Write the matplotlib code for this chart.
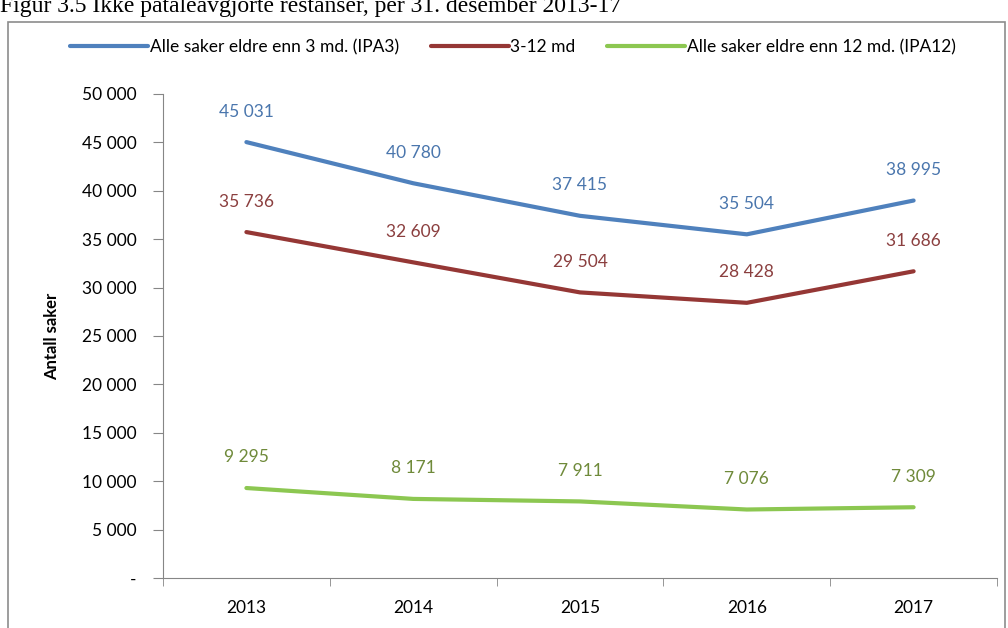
import numpy as np
import matplotlib
matplotlib.use('Agg')
import matplotlib.pyplot as plt
from matplotlib.patches import Rectangle

years = ['2013', '2014', '2015', '2016', '2017']
ipa3 = [45031, 40780, 37415, 35504, 38995]
mid = [35736, 32609, 29504, 28428, 31686]
ipa12 = [9295, 8171, 7911, 7076, 7309]

series_names = ['Alle saker eldre enn 3 md. (IPA3)', '3-12 md',
                'Alle saker eldre enn 12 md. (IPA12)']
line_colors = ['#4f81bd', '#953735', '#8cc751']
label_colors = ['#4a76ad', '#8b3f3f', '#6f8a3a']

yticks = np.arange(0, 50001, 5000)


def fmt(v):
    # norwegian style thousands with space, dash for zero
    if v == 0:
        return '-'
    return '{:,}'.format(int(v)).replace(',', ' ')


plt.rcParams['font.family'] = ['Lato', 'DejaVu Sans']

fig = plt.figure(figsize=(10.08, 6.28), dpi=100, facecolor='w')
W, H = 1008, 628

# caption, cut by the top edge in the reference
fig.text(0, 1 - 6 / H, 'Figur 3.5 Ikke påtaleavgjorte restanser, per 31. desember 2013-17',
         family='Liberation Serif', fontsize=17, va='center', ha='left')

# chart frame
fig.patches.append(Rectangle((8 / W, -0.05), (1005 - 8) / W, 1 - 22 / H + 0.05,
                             transform=fig.transFigure, fill=False,
                             edgecolor='#8c8c8c', lw=1.2))

ax = fig.add_axes([163 / W, 1 - 578 / H, (997 - 163) / W, (578 - 94) / H])
x = np.arange(len(years))
for vals, lc, tc, name in zip([ipa3, mid, ipa12], line_colors, label_colors, series_names):
    ax.plot(x, vals, color=lc, lw=3, solid_capstyle='round', label=name)
    for xi, v in zip(x, vals):
        ax.annotate(fmt(v), (xi, v), xytext=(0, 22), textcoords='offset points',
                    ha='center', va='center', color=tc, fontsize=12.5)

ax.set_xlim(-0.5, len(years) - 0.5)
ax.set_ylim(0, 50000)
ax.set_yticks(yticks)
ax.set_yticklabels([fmt(v) for v in yticks], fontsize=12.5)
ax.set_xticks(x)
ax.set_xticklabels(years, fontsize=12.5)
ax.set_xticks(np.arange(-0.5, len(years)), minor=True)
ax.tick_params(axis='x', which='major', length=0, pad=16)
ax.tick_params(axis='x', which='minor', length=6, color='#868686', direction='out')
ax.tick_params(axis='y', length=7, color='#868686', pad=12)
for s in ['top', 'right']:
    ax.spines[s].set_visible(False)
for s in ['left', 'bottom']:
    ax.spines[s].set_color('#868686')
ax.set_ylabel('Antall saker', fontsize=12, fontweight='bold', labelpad=16)

leg = fig.legend(loc='center', bbox_to_anchor=(513 / W, 1 - 47 / H), ncol=3,
                 frameon=False, fontsize=12.5, handlelength=4.5, handletextpad=0.1,
                 columnspacing=1.8)

fig.savefig('out.png', dpi=100)
